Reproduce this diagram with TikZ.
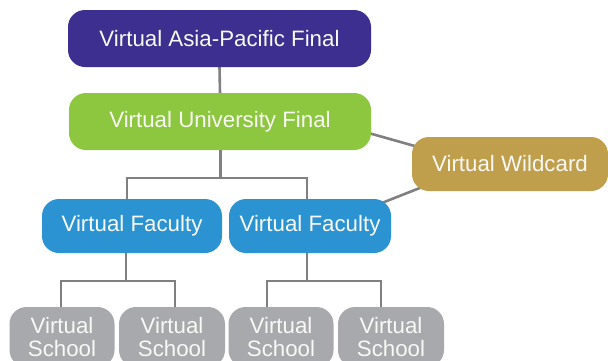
\documentclass[tikz,border=0pt]{standalone}
\usepackage{fontspec}
\setmainfont{Liberation Sans}
\usetikzlibrary{backgrounds}
\definecolor{cpurple}{HTML}{3C2F8F}
\definecolor{cgreen}{HTML}{8DC63F}
\definecolor{cgold}{HTML}{BF9E4C}
\definecolor{cblue}{HTML}{2B93D1}
\definecolor{cgray}{HTML}{A7A9AC}
\definecolor{cline}{HTML}{808080}
\definecolor{ctext}{HTML}{F8F8F4}
\tikzset{
  box/.style={rounded corners=17pt, text=ctext, inner sep=0pt, align=center,
    font=\fontsize{22.3}{23}\selectfont},
  conn/.style={draw=cline, line width=2.6pt},
}
\begin{document}
\begin{tikzpicture}[x=1pt,y=-1pt]
\clip (0,0) rectangle (608,360);
\node[box, fill=cpurple, minimum width=303pt, minimum height=57pt] (apf) at (219.5,38.5) {Virtual Asia-Pacific Final};
\node[box, fill=cgreen, minimum width=302pt, minimum height=57pt] (uf) at (220,121.5) {Virtual University Final};
\node[box, fill=cgold, minimum width=196pt, minimum height=54pt] (wc) at (510,164) {Virtual Wildcard};
\node[box, fill=cblue, minimum width=180pt, minimum height=54pt] (fl) at (132,226) {Virtual Faculty};
\node[box, fill=cblue, minimum width=162pt, minimum height=54pt] (fr) at (310,226) {Virtual Faculty};
\node[box, fill=cgray, minimum width=105pt, minimum height=60pt] (s1) at (62,337) {Virtual\\School};
\node[box, fill=cgray, minimum width=106pt, minimum height=60pt] (s2) at (172,337) {Virtual\\School};
\node[box, fill=cgray, minimum width=105pt, minimum height=60pt] (s3) at (281,337) {Virtual\\School};
\node[box, fill=cgray, minimum width=106pt, minimum height=60pt] (s4) at (391,337) {Virtual\\School};
\coordinate (j1) at (220.5,178);
\coordinate (j2) at (126,281);
\coordinate (j3) at (307,281);
\begin{scope}[on background layer]
\fill[white] (0,0) rectangle (608,360);
\draw[conn] (apf.south) -- (uf.north);
\draw[conn] (uf.south -| j1) -- (j1);
\draw[conn] ([xshift=-5pt]fl.north) |- (j1) -| ([xshift=-3pt]fr.north);
\draw[conn] (fl.south -| j2) -- (j2);
\draw[conn] ([xshift=-1pt]s1.north) |- (j2) -| ([xshift=3pt]s2.north);
\draw[conn] (fr.south -| j3) -- (j3);
\draw[conn] ([xshift=-14pt]s3.north) |- (j3) -| ([xshift=-10pt]s4.north);
\draw[conn] ([shift={(-8,10)}]uf.east) -- ([shift={(10,-16)}]wc.west);
\draw[conn] ([shift={(13,22)}]wc.west) -- ([shift={(-17,-20)}]fr.east);
\end{scope}
\end{tikzpicture}
\end{document}
